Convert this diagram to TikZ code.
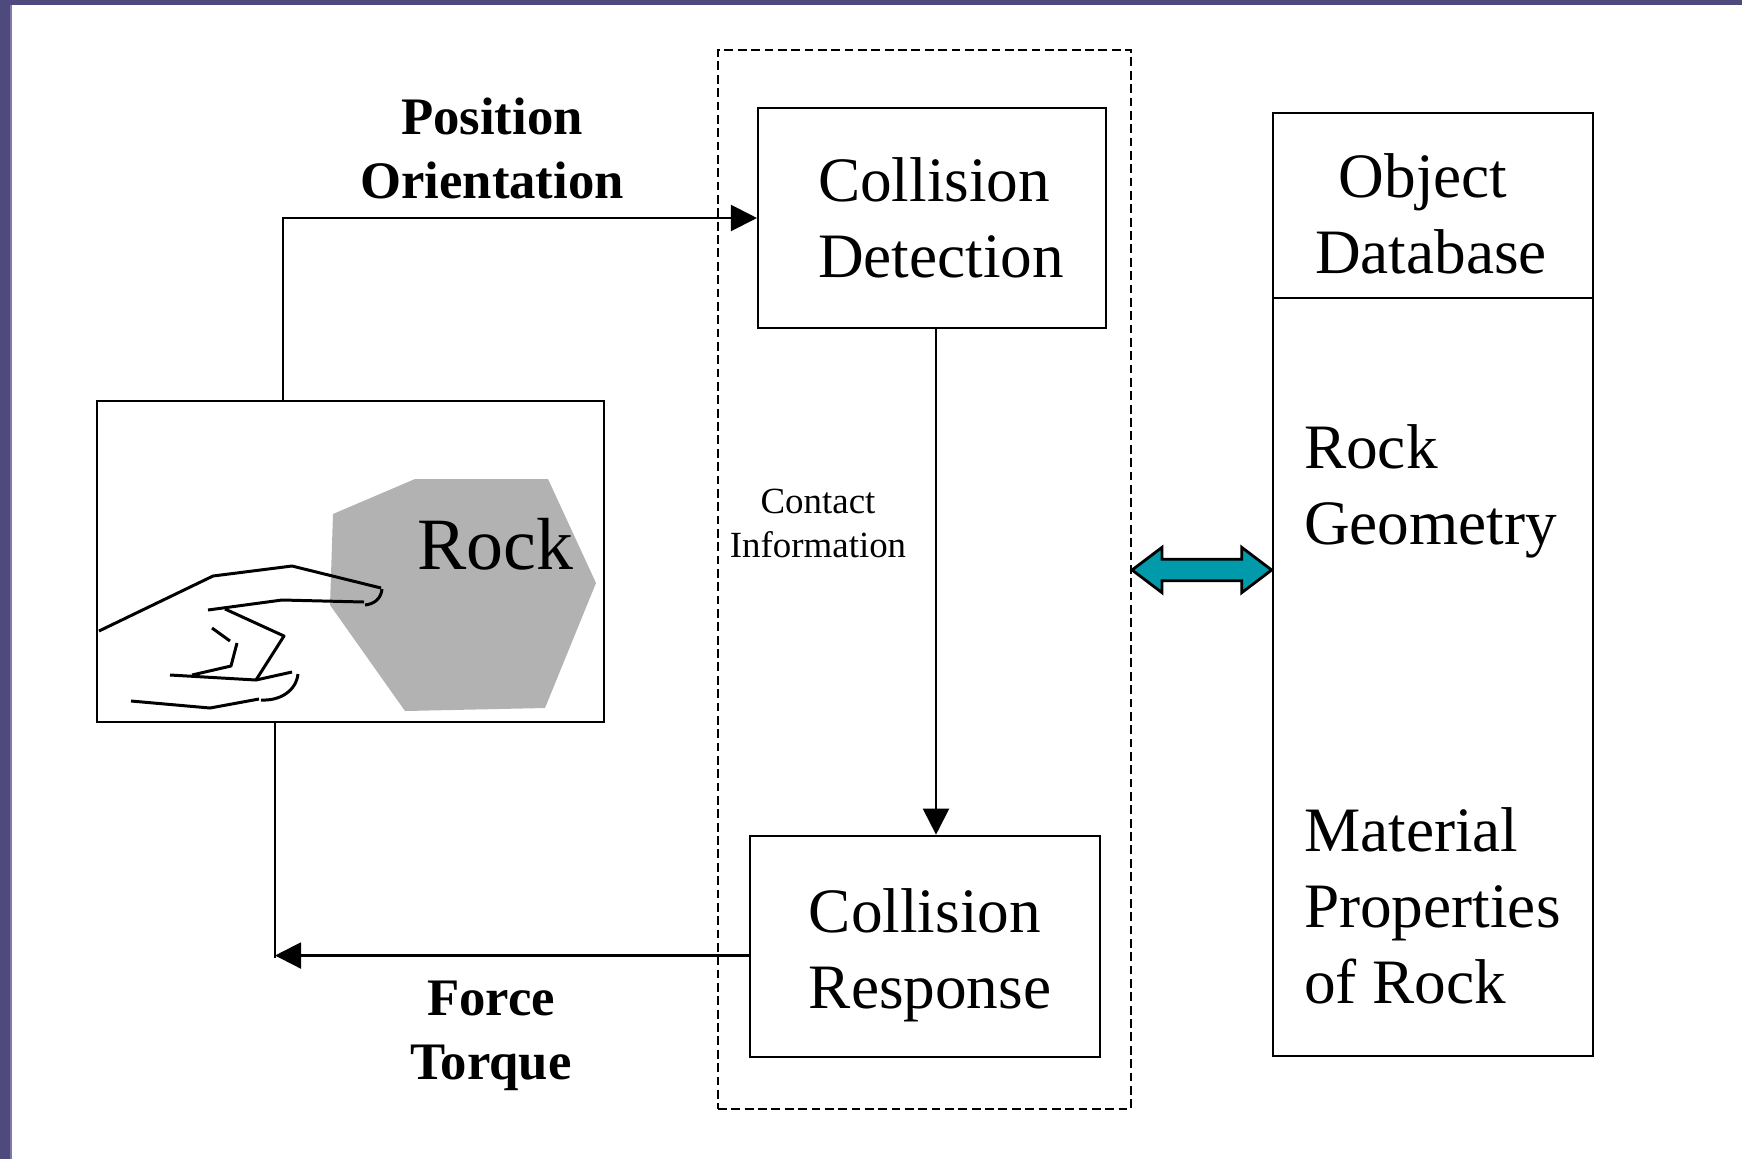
\documentclass[tikz,border=0pt]{standalone}
\usepackage{fontspec}
\setmainfont{Liberation Serif}
\usetikzlibrary{arrows.meta,calc}

\definecolor{slideframe}{RGB}{78,74,125}
\definecolor{slideedge}{RGB}{128,120,168}
\definecolor{linkteal}{RGB}{0,154,170}
\definecolor{rockgray}{RGB}{178,178,178}

\begin{document}
\begin{tikzpicture}[
  line width=0.6pt,
  >={Triangle[length=0.26cm,width=0.26cm]},
  block/.style={draw, minimum width=3.48cm, minimum height=2.2cm},
  block text/.style={align=left, anchor=north west, inner sep=0pt, font=\fontsize{18}{21.5}\selectfont},
  flow label/.style={align=center, font=\bfseries\fontsize{15}{18.2}\selectfont},
  db text/.style={align=left, anchor=west, inner sep=0pt, font=\fontsize{18}{21.6}\selectfont},
  hand/.style={line width=0.85pt, line join=round},
  ]
  \useasboundingbox (0,0) rectangle (17.42,11.59);
  % slide frame
  \fill[slideframe] (0,0) rectangle (0.10,11.59);
  \fill[slideframe] (0,11.54) rectangle (17.42,11.59);
  \fill[slideedge] (0.10,0) rectangle (0.115,11.54);

  % simulation loop
  \node [draw, dash pattern=on 2.5pt off 1.3pt, minimum width=4.13cm, minimum height=10.59cm] (engine) at (9.245,5.795) {};
  \node [block] (CD) at (9.32,9.41) {};
  \node [block text] at ([xshift=0.60cm,yshift=-0.50cm]CD.north west) {Collision\\Detection};
  \node [block, minimum width=3.5cm, minimum height=2.21cm] (CR) at (9.248,2.128) {};
  \node [block text] at ([xshift=0.59cm,yshift=-0.53cm]CR.north west) {Collision\\Response};
  \draw [->] ([xshift=0.04cm]CD.south) -- ([xshift=0.04cm]CD.south |- CR.north);
  \node [align=center, font=\fontsize{10.5}{12.6}\selectfont] (contact) at (8.18,6.355) {Contact\\Information};

  % object database
  \node [draw, minimum width=3.206cm, minimum height=9.424cm] (db) at (14.33,5.745) {};
  \coordinate (split) at (14.33,8.61);
  \draw (db.west |- split) -- (db.east |- split);
  \node [align=center, font=\fontsize{18}{21.6}\selectfont] (dbtitle) at (14.31,9.455) {Object\hspace*{0.16cm}\\Database};
  \node [db text] (geometry) at (13.03,6.675) {Rock\\Geometry};
  \node [db text] (material) at (13.03,2.53) {Material\\Properties\\of Rock};

  % two-way link
  \coordinate (link) at (11.31,5.89);
  \filldraw [fill=linkteal, line width=0.8pt] (engine.east |- link) -- ++(0.30,0.227) -- ++(0,-0.12)
    -- ($(db.west |- link)+(-0.30,0.107)$) -- ++(0,0.12) -- (db.west |- link) -- ++(-0.30,-0.227) -- ++(0,0.12)
    -- ($(engine.east |- link)+(0.30,-0.107)$) -- ++(0,-0.12) -- cycle;

  % hand touching the rock
  \node [draw, minimum width=5.065cm, minimum height=3.21cm] (scene) at (3.505,5.975) {};
  \fill [rockgray] (3.33,6.45) -- (4.15,6.80) -- (5.48,6.80) -- (5.96,5.76) -- (5.45,4.51) -- (4.05,4.48) -- (3.30,5.54) -- cycle;
  \node [anchor=base, font=\fontsize{21}{24}\selectfont] (rock) at (4.955,5.898) {Rock};
  \draw [hand] (0.99,5.28) -- (2.13,5.83) -- (2.92,5.93) -- (3.81,5.71);
  \draw [hand] (3.82,5.70) .. controls (3.81,5.60) and (3.74,5.55) .. (3.65,5.54);
  \draw [hand] (3.64,5.57) -- (2.82,5.59) -- (2.08,5.49);
  \draw [hand] (2.25,5.50) -- (2.84,5.23) -- (2.56,4.79);
  \draw [hand] (2.12,5.31) -- (2.30,5.18);
  \draw [hand] (2.37,5.16) -- (2.31,4.93) -- (1.92,4.84);
  \draw [hand] (1.70,4.84) -- (2.56,4.79) -- (2.92,4.87);
  \draw [hand] (2.98,4.85) .. controls (2.96,4.68) and (2.80,4.58) .. (2.61,4.59);
  \draw [hand] (1.31,4.58) -- (2.10,4.51) -- (2.59,4.60);

  % pose goes in, force comes back
  \coordinate (pose) at (2.83,9.41);
  \draw [->] (scene.north -| pose) |- (CD.west);
  \node [flow label] (poselabel) at (4.92,10.105) {Position\\Orientation};
  \coordinate (force) at (2.75,2.035);
  \draw (scene.south -| force) -- ([yshift=-0.02cm]force);
  \draw [->] (CR.west |- force) -- (force);
  \node [flow label] (forcelabel) at (4.91,1.236) {Force\\Torque};
\end{tikzpicture}
\end{document}
